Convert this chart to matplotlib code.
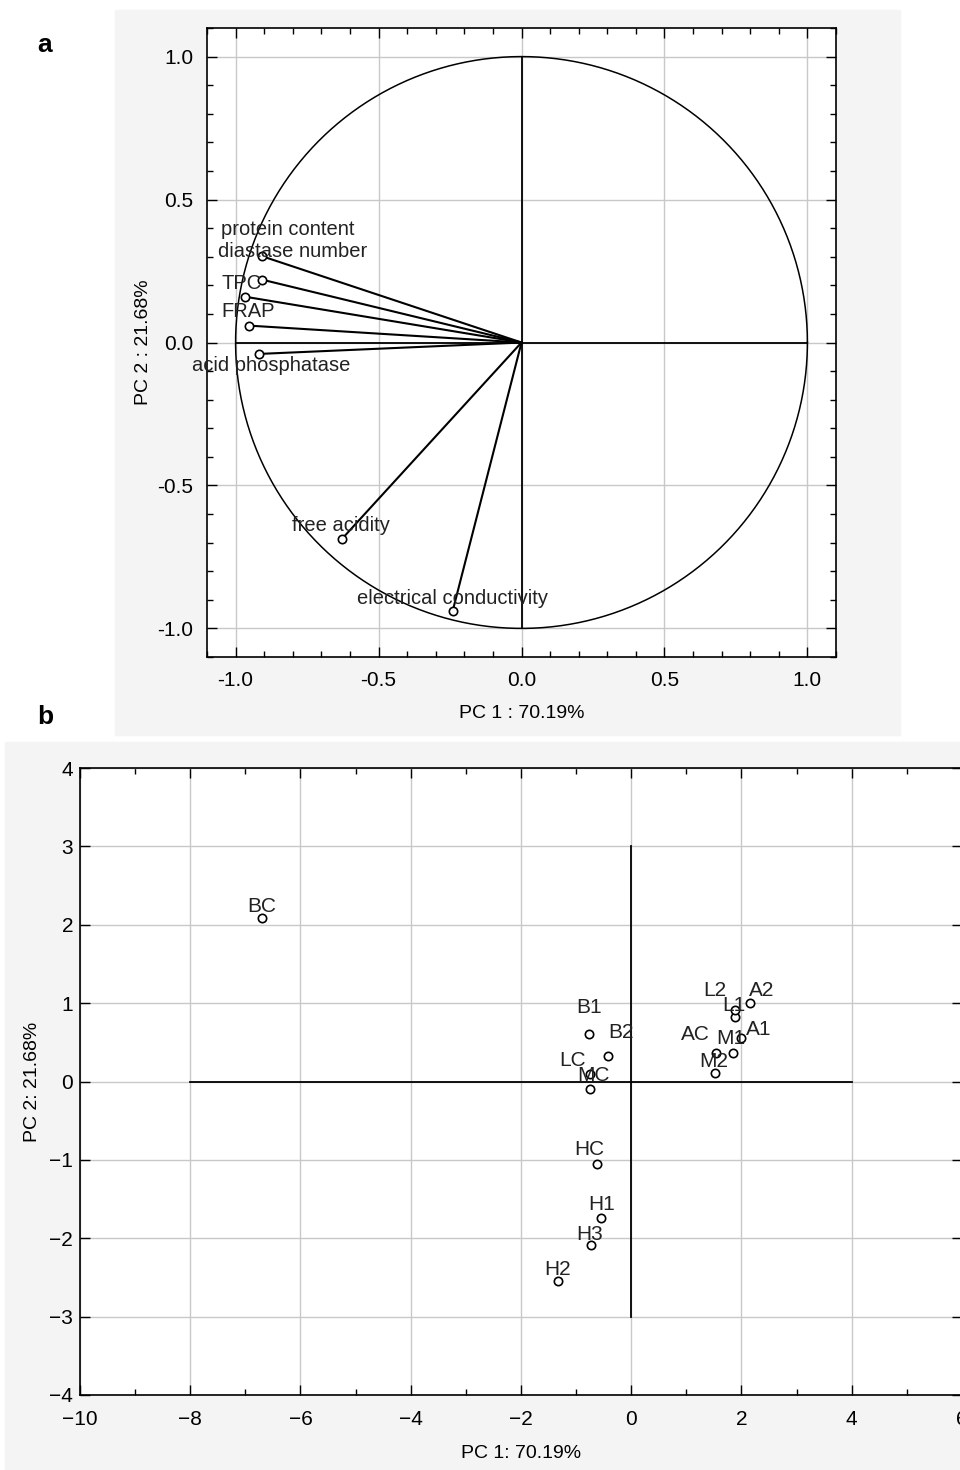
import numpy as np
import matplotlib
matplotlib.use("Agg")
import matplotlib.pyplot as plt
import matplotlib.patches as mp
from matplotlib.ticker import MultipleLocator, FormatStrFormatter

plt.rcParams["font.family"] = ["Liberation Sans", "DejaVu Sans"]

# panel a: loadings
VAR_NAMES = ["protein content", "diastase number", "TPC", "FRAP",
             "acid phosphatase", "free acidity", "electrical conductivity"]
LOAD_PC1 = [-0.908, -0.908, -0.966, -0.952, -0.919, -0.628, -0.241]
LOAD_PC2 = [0.302, 0.220, 0.160, 0.059, -0.040, -0.687, -0.940]

# panel b: scores
SAMPLES = ["BC", "B1", "B2", "LC", "MC", "HC", "H1", "H2", "H3",
           "AC", "A1", "A2", "L1", "L2", "M1", "M2"]
SCORE_PC1 = [-6.70, -0.77, -0.42, -0.75, -0.74, -0.63, -0.54, -1.33, -0.73,
             1.54, 2.00, 2.16, 1.88, 1.88, 1.85, 1.52]
SCORE_PC2 = [2.08, 0.61, 0.33, 0.10, -0.09, -1.05, -1.74, -2.55, -2.09,
             0.37, 0.55, 1.00, 0.82, 0.91, 0.37, 0.11]

# label offsets (pixels, x right / y up)
OFF_A = {"protein content": (26, 27), "diastase number": (31, 28), "TPC": (-4, 13),
         "FRAP": (-1, 14), "acid phosphatase": (12, -12), "free acidity": (-1, 13),
         "electrical conductivity": (0, 13)}
OFF_B = {"BC": (0, 12), "HC": (-7, 14), "H1": (0, 13), "H3": (-1, 11), "H2": (0, 12),
         "B1": (0, 26), "B2": (13, 23), "LC": (-17, 13), "MC": (3, 13), "L2": (-20, 20),
         "L1": (-1, 12), "A2": (11, 13), "A1": (17, 9), "M1": (-2, 14), "AC": (-21, 18),
         "M2": (-1, 11)}

W, H = 960, 1470
fig = plt.figure(figsize=(W / 100, H / 100), dpi=100, facecolor="white")


def fbox(x0, y0, x1, y1):
    return [x0 / W, 1 - y1 / H, (x1 - x0) / W, (y1 - y0) / H]


BG = "#f4f4f4"
fig.patches.append(mp.Rectangle((115 / W, 1 - 735 / H), 785 / W, 725 / H,
                                transform=fig.transFigure, color=BG, zorder=-5))
fig.patches.append(mp.Rectangle((5 / W, 1 - 1470 / H), 955 / W, 728 / H,
                                transform=fig.transFigure, color=BG, zorder=-5))

GRID = "#c8c8c8"


def style_axes(ax, major, minor):
    ax.xaxis.set_major_locator(MultipleLocator(major[0]))
    ax.xaxis.set_minor_locator(MultipleLocator(minor[0]))
    ax.yaxis.set_major_locator(MultipleLocator(major[1]))
    ax.yaxis.set_minor_locator(MultipleLocator(minor[1]))
    ax.tick_params(which="both", direction="in", top=True, right=True,
                   labelsize=15, width=1, color="black")
    ax.tick_params(which="major", length=7, pad=10)
    ax.tick_params(which="minor", length=4)
    ax.grid(True, which="major", color=GRID, lw=1)
    ax.set_axisbelow(True)
    for s in ax.spines.values():
        s.set_linewidth(1.2)


# ---- panel a ----
axa = fig.add_axes(fbox(207, 28, 836, 657))
th = np.linspace(0, 2 * np.pi, 400)
axa.plot(np.cos(th), np.sin(th), color="black", lw=1.1)
axa.plot([-1, 1], [0, 0], color="black", lw=1.3)
axa.plot([0, 0], [-1, 1], color="black", lw=1.3)
for name, x, y in zip(VAR_NAMES, LOAD_PC1, LOAD_PC2):
    axa.plot([0, x], [0, y], color="black", lw=1.5)
    axa.plot(x, y, "o", mfc="white", mec="black", ms=6, mew=1.2)
    axa.annotate(name, (x, y), xytext=OFF_A[name], textcoords="offset pixels",
                 ha="center", va="center", fontsize=14.5, color="#222222")
axa.set_xlim(-1.1, 1.1)
axa.set_ylim(-1.1, 1.1)
style_axes(axa, (0.5, 0.5), (0.1, 0.1))
axa.xaxis.set_major_formatter(FormatStrFormatter("%.1f"))
axa.yaxis.set_major_formatter(FormatStrFormatter("%.1f"))
axa.set_xlabel("PC 1 : 70.19%", fontsize=14, labelpad=11)
axa.set_ylabel("PC 2 : 21.68%", fontsize=14, labelpad=4)

# ---- panel b ----
axb = fig.add_axes(fbox(80, 768, 962, 1395))
axb.plot([-8, 4], [0, 0], color="black", lw=1.3)
axb.plot([0, 0], [-3, 3], color="black", lw=1.3)
axb.plot(SCORE_PC1, SCORE_PC2, "o", mfc="white", mec="black", ms=6, mew=1.2, ls="none")
for name, x, y in zip(SAMPLES, SCORE_PC1, SCORE_PC2):
    axb.annotate(name, (x, y), xytext=OFF_B[name], textcoords="offset pixels",
                 ha="center", va="center", fontsize=15, color="#222222")
axb.set_xlim(-10, 6)
axb.set_ylim(-4, 4)
style_axes(axb, (2, 1), (1, 1))
axb.tick_params(axis="y", which="major", pad=5)
axb.tick_params(axis="x", which="major", pad=11)
axb.set_xlabel("PC 1: 70.19%", fontsize=14, labelpad=11)
axb.set_ylabel("PC 2: 21.68%", fontsize=14, labelpad=6)

fig.text(45 / W, 1 - 45 / H, "a", fontsize=19, fontweight="bold",
         family="Liberation Sans", ha="center", va="center")
fig.text(45 / W, 1 - 717 / H, "b", fontsize=19, fontweight="bold",
         family="Liberation Sans", ha="center", va="center")

fig.savefig("out.png", dpi=100)
